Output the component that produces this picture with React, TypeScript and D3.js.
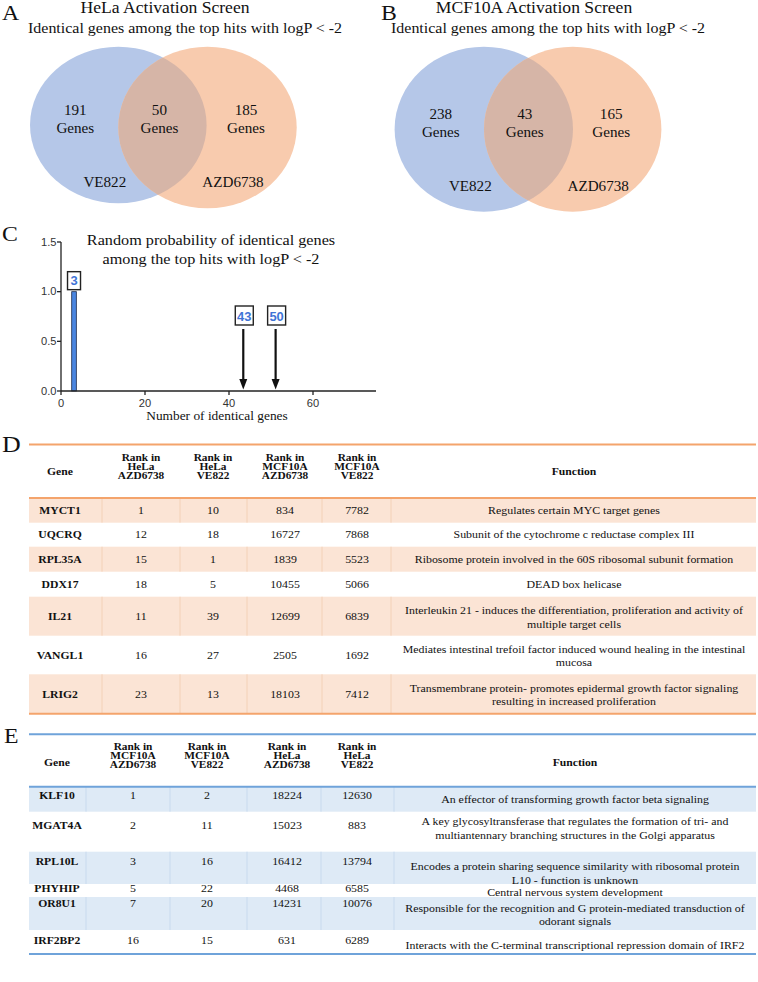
import React from 'react';
import * as d3 from 'd3';

// ---------------- DATA ----------------
// Panels A & B (Venn)
const vennTitles = ['HeLa Activation Screen', 'MCF10A Activation Screen'];
const vennSubtitle = 'Identical genes among the top hits with logP < -2';
const vennOnlyVE822 = [191, 238];
const vennShared = [50, 43];
const vennOnlyAZD = [185, 165];
const vennSetNames = ['VE822', 'AZD6738'];

// Panel C (histogram)
const histBins = [3];
const histProb = [1.0];
const histBinLabels = ['3'];
const observedLabels = ['43', '50'];
const observedAt = [43.4, 51.1];
const cXTicks = [0, 20, 40, 60];
const cYTicks = [0, 0.5, 1.0, 1.5];
const cTitle = ['Random probability of identical genes', 'among the top hits with logP < -2'];
const cXLabel = 'Number of identical genes';

// Panel D
const dHeaders = [['Gene'], ['Rank in', 'HeLa', 'AZD6738'], ['Rank in', 'HeLa', 'VE822'], ['Rank in', 'MCF10A', 'AZD6738'], ['Rank in', 'MCF10A', 'VE822'], ['Function']];
const dGenes = ['MYCT1', 'UQCRQ', 'RPL35A', 'DDX17', 'IL21', 'VANGL1', 'LRIG2'];
const dHelaAZD = [1, 12, 15, 18, 11, 16, 23];
const dHelaVE = [10, 18, 1, 5, 39, 27, 13];
const dMcfAZD = [834, 16727, 1839, 10455, 12699, 2505, 18103];
const dMcfVE = [7782, 7868, 5523, 5066, 6839, 1692, 7412];
const dFunctions = [
  ['Regulates certain MYC target genes'],
  ['Subunit of the cytochrome c reductase complex III'],
  ['Ribosome protein involved in the 60S ribosomal subunit formation'],
  ['DEAD box helicase'],
  ['Interleukin 21 - induces the differentiation, proliferation and activity of', 'multiple target cells'],
  ['Mediates intestinal trefoil factor induced wound healing in the intestinal', 'mucosa'],
  ['Transmembrane protein- promotes epidermal growth factor signaling', 'resulting in increased proliferation'],
];

// Panel E
const eHeaders = [['Gene'], ['Rank in', 'MCF10A', 'AZD6738'], ['Rank in', 'MCF10A', 'VE822'], ['Rank in', 'HeLa', 'AZD6738'], ['Rank in', 'HeLa', 'VE822'], ['Function']];
const eGenes = ['KLF10', 'MGAT4A', 'RPL10L', 'PHYHIP', 'OR8U1', 'IRF2BP2'];
const eMcfAZD = [1, 2, 3, 5, 7, 16];
const eMcfVE = [2, 11, 16, 22, 20, 15];
const eHelaAZD = [18224, 15023, 16412, 4468, 14231, 631];
const eHelaVE = [12630, 883, 13794, 6585, 10076, 6289];
const eFunctions = [
  ['An effector of transforming growth factor beta signaling'],
  ['A key glycosyltransferase that regulates the formation of tri- and', 'multiantennary branching structures in the Golgi apparatus'],
  ['Encodes a protein sharing sequence similarity with ribosomal protein', 'L10 - function is unknown'],
  ['Central nervous system development'],
  ['Responsible for the recognition and G protein-mediated transduction of', 'odorant signals'],
  ['Interacts with the C-terminal transcriptional repression domain of IRF2'],
];

// ---------------- STYLE / LAYOUT ----------------
const SX = 1.08;
const SERIF = "'Liberation Serif', 'Times New Roman', serif";
const SANS = "'Liberation Sans', Arial, Helvetica, sans-serif";
const INK = '#111';

const vennLayout = [
  { tx: 165, sx: 185, blue: [118.3, 125, 88.3, 78.3], orange: [207.5, 127.5, 89.2, 80.8] },
  { tx: 534, sx: 548, blue: [483.8, 129.2, 89.2, 82.5], orange: [572.7, 129.2, 88.7, 82.5] },
];

const dLayout = {
  top: 444.5, headBottom: 498, bottom: 713.8,
  cols: [29, 102, 180, 247, 322, 391, 756],
  centers: [60, 141, 213, 285, 357, 574],
  rowTops: [498, 522.7, 546.7, 571.7, 596.7, 635.7, 674.3],
  headBase: [460.7, 469.7, 478.7], singleBase: 475.3,
  line: '#f4a46c', shade: '#fbe4d5', divider: '#f3cbb0',
};
const eLayout = {
  top: 734.3, headBottom: 786.7, bottom: 954,
  cols: [29, 86, 170, 247, 321, 394, 756],
  centers: [57, 133, 207, 287, 357, 575],
  rowTops: [786.7, 811.7, 851.7, 884, 897, 930],
  valueMid: [795.5, 825, 861.7, 888, 903.3, 940.7],
  funcMid: [799.5, 821.7, 866.7, 892.7, 908.3, 945],
  headBase: [750, 759.2, 768.3], singleBase: 765.5,
  line: '#6fa3da', shade: '#deeaf6', divider: '#c3d7ee',
};

type TP = { x: number; y: number; size: number; weight?: any; anchor?: any; family?: string; fill?: string; children: any; sx?: number };
function T({ x, y, size, weight = 'normal', anchor = 'middle', family = SERIF, fill = INK, children, sx = SX }: TP) {
  return (
    <text transform={`translate(${x},${y}) scale(${sx},1)`} fontSize={size} fontWeight={weight}
      textAnchor={anchor} fontFamily={family} fill={fill}>{children}</text>
  );
}

function Venn({ i }: { i: number }) {
  const L = vennLayout[i];
  const [bx, by, brx, bry] = L.blue;
  const [ox, oy, orx, ory] = L.orange;
  const mid = (bx + ox) / 2;
  const cy = by;
  return (
    <g>
      <defs>
        <clipPath id={`clipBlue${i}`}><ellipse cx={bx} cy={by} rx={brx} ry={bry} /></clipPath>
      </defs>
      <T x={L.tx} y={13.3} size={16.3}>{vennTitles[i]}</T>
      <T x={L.sx} y={33.3} size={14.8}>{vennSubtitle}</T>
      <ellipse cx={bx} cy={by} rx={brx} ry={bry} fill="#b5c7e8" />
      <ellipse cx={ox} cy={oy} rx={orx} ry={ory} fill="#f8cbae" />
      <ellipse cx={ox} cy={oy} rx={orx} ry={ory} fill="#d6b5a7" clipPath={`url(#clipBlue${i})`} />
      <T x={bx - 43} y={cy - 10.5} size={14}>{vennOnlyVE822[i]}</T>
      <T x={bx - 43} y={cy + 8} size={14}>Genes</T>
      <T x={mid - 3.5} y={cy - 10.5} size={14}>{vennShared[i]}</T>
      <T x={mid - 3.5} y={cy + 8} size={14}>Genes</T>
      <T x={ox + 38.5} y={cy - 10.5} size={14}>{vennOnlyAZD[i]}</T>
      <T x={ox + 38.5} y={cy + 8} size={14}>Genes</T>
      <T x={bx - 13.5} y={cy + 61.5} size={14}>{vennSetNames[0]}</T>
      <T x={ox + 25.5} y={cy + 61.5} size={14}>{vennSetNames[1]}</T>
    </g>
  );
}

function PanelC() {
  const x = d3.scaleLinear().domain([0, 75]).range([61, 376]);
  const y = d3.scaleLinear().domain([0, 1.5]).range([391, 242]);
  const blue = '#3f74d6';
  return (
    <g>
      <T x={211} y={245} size={15}>{cTitle[0]}</T>
      <T x={211} y={263.5} size={15}>{cTitle[1]}</T>
      {histBins.map((b, k) => {
        const x0 = x(b - 0.45), x1 = x(b + 0.65);
        const top = y(histProb[k]);
        return (
          <g key={k}>
            <rect x={x0} y={top} width={x1 - x0} height={y(0) - top} fill="#4a86e0" stroke="#1a2a4a" strokeWidth={0.8} />
            <rect x={(x0 + x1) / 2 - 6.5} y={top - 20} width={13} height={18} fill="#fff" stroke="#222" strokeWidth={1.4} />
            <T x={(x0 + x1) / 2} y={top - 6.5} size={12} weight="bold" family={SANS} fill={blue}>{histBinLabels[k]}</T>
          </g>
        );
      })}
      {observedAt.map((v, k) => {
        const ax = x(v);
        return (
          <g key={k}>
            <rect x={ax - 8} y={306} width={18} height={19} fill="#fff" stroke="#222" strokeWidth={1.4} />
            <T x={ax + 1} y={320.5} size={12} weight="bold" family={SANS} fill={blue}>{observedLabels[k]}</T>
            <line x1={ax} x2={ax} y1={329} y2={381} stroke="#111" strokeWidth={2.2} />
            <path d={`M${ax - 4},${379} L${ax + 4},${379} L${ax},${389.5} Z`} fill="#111" />
          </g>
        );
      })}
      <line x1={x(0)} x2={x(75)} y1={y(0)} y2={y(0)} stroke="#222" strokeWidth={1.3} />
      <line x1={x(0)} x2={x(0)} y1={y(0)} y2={y(1.5)} stroke="#222" strokeWidth={1.3} />
      {cYTicks.map((t) => (
        <g key={t}>
          <line x1={x(0) - 4} x2={x(0)} y1={y(t)} y2={y(t)} stroke="#222" strokeWidth={1.3} />
          <T x={x(0) - 4.5} y={y(t) + 3.7} size={10.3} family={SANS} anchor="end" fill="#333">{d3.format('.1f')(t)}</T>
        </g>
      ))}
      {cXTicks.map((t) => (
        <g key={t}>
          <line x1={x(t)} x2={x(t)} y1={y(0)} y2={y(0) + 4} stroke="#222" strokeWidth={1.3} />
          <T x={x(t)} y={407} size={10.3} family={SANS} fill="#333">{t}</T>
        </g>
      ))}
      <T x={217} y={420} size={12.4}>{cXLabel}</T>
    </g>
  );
}

type TableProps = {
  L: any; headers: string[][]; genes: string[]; cols: number[][]; funcs: string[][];
};
function Table({ L, headers, genes, cols, funcs }: TableProps) {
  const n = genes.length;
  const tops = L.rowTops as number[];
  const bottoms = tops.map((t, k) => (k < n - 1 ? tops[k + 1] : L.bottom));
  const FS = 11;
  const LH = 13.3;
  return (
    <g>
      {genes.map((g, k) => (k % 2 === 0 ? (
        <g key={'s' + k}>
          <rect x={L.cols[0]} y={tops[k]} width={L.cols[6] - L.cols[0]} height={bottoms[k] - tops[k]} fill={L.shade} />
          {L.cols.slice(1, 6).map((cx: number, j: number) => (
            <line key={j} x1={cx} x2={cx} y1={tops[k]} y2={bottoms[k]} stroke={L.divider} strokeWidth={0.8} />
          ))}
        </g>
      ) : null))}
      <line x1={L.cols[0]} x2={L.cols[6]} y1={L.top} y2={L.top} stroke={L.line} strokeWidth={2} />
      <line x1={L.cols[0]} x2={L.cols[6]} y1={L.headBottom} y2={L.headBottom} stroke={L.line} strokeWidth={2} />
      <line x1={L.cols[0]} x2={L.cols[6]} y1={L.bottom} y2={L.bottom} stroke={L.line} strokeWidth={2} />
      {headers.map((h, j) => (h.length === 1 ? (
        <T key={j} x={L.centers[j]} y={L.singleBase} size={10.8} weight="bold">{h[0]}</T>
      ) : (
        <g key={j}>{h.map((s, q) => (
          <T key={q} x={L.centers[j]} y={L.headBase[q]} size={10.5} weight="bold">{s}</T>
        ))}</g>
      )))}
      {genes.map((g, k) => {
        const vm = L.valueMid ? L.valueMid[k] : (tops[k] + bottoms[k]) / 2;
        const f = funcs[k];
        const fm = L.funcMid ? L.funcMid[k] : (tops[k] + bottoms[k]) / 2 - ((f.length - 1) * LH) / 2 + (f.length > 1 ? 1 : 0);
        return (
          <g key={'r' + k}>
            <T x={L.centers[0]} y={vm + 3.7} size={10.8} weight="bold">{g}</T>
            {cols.map((c, j) => (
              <T key={j} x={L.centers[j + 1]} y={vm + 3.7} size={FS}>{c[k]}</T>
            ))}
            {f.map((s, q) => (
              <T key={q} x={L.centers[5]} y={fm + q * LH + 3.7} size={FS}>{s}</T>
            ))}
          </g>
        );
      })}
    </g>
  );
}

export default function App() {
  return (
    <svg width={758} height={982} viewBox="0 0 758 982"
      style={{ position: 'absolute', left: 0, top: 0, background: '#fff' }}>
      <rect x={0} y={0} width={758} height={982} fill="#fff" />
      <T x={2} y={20} size={22} anchor="start">A</T>
      <T x={381} y={20} size={22} anchor="start">B</T>
      <T x={2} y={241} size={22} anchor="start">C</T>
      <T x={2} y={452} size={24} anchor="start">D</T>
      <T x={4} y={743} size={22} anchor="start">E</T>
      <Venn i={0} />
      <Venn i={1} />
      <PanelC />
      <Table L={dLayout} headers={dHeaders} genes={dGenes} cols={[dHelaAZD, dHelaVE, dMcfAZD, dMcfVE]} funcs={dFunctions} />
      <Table L={eLayout} headers={eHeaders} genes={eGenes} cols={[eMcfAZD, eMcfVE, eHelaAZD, eHelaVE]} funcs={eFunctions} />
    </svg>
  );
}
